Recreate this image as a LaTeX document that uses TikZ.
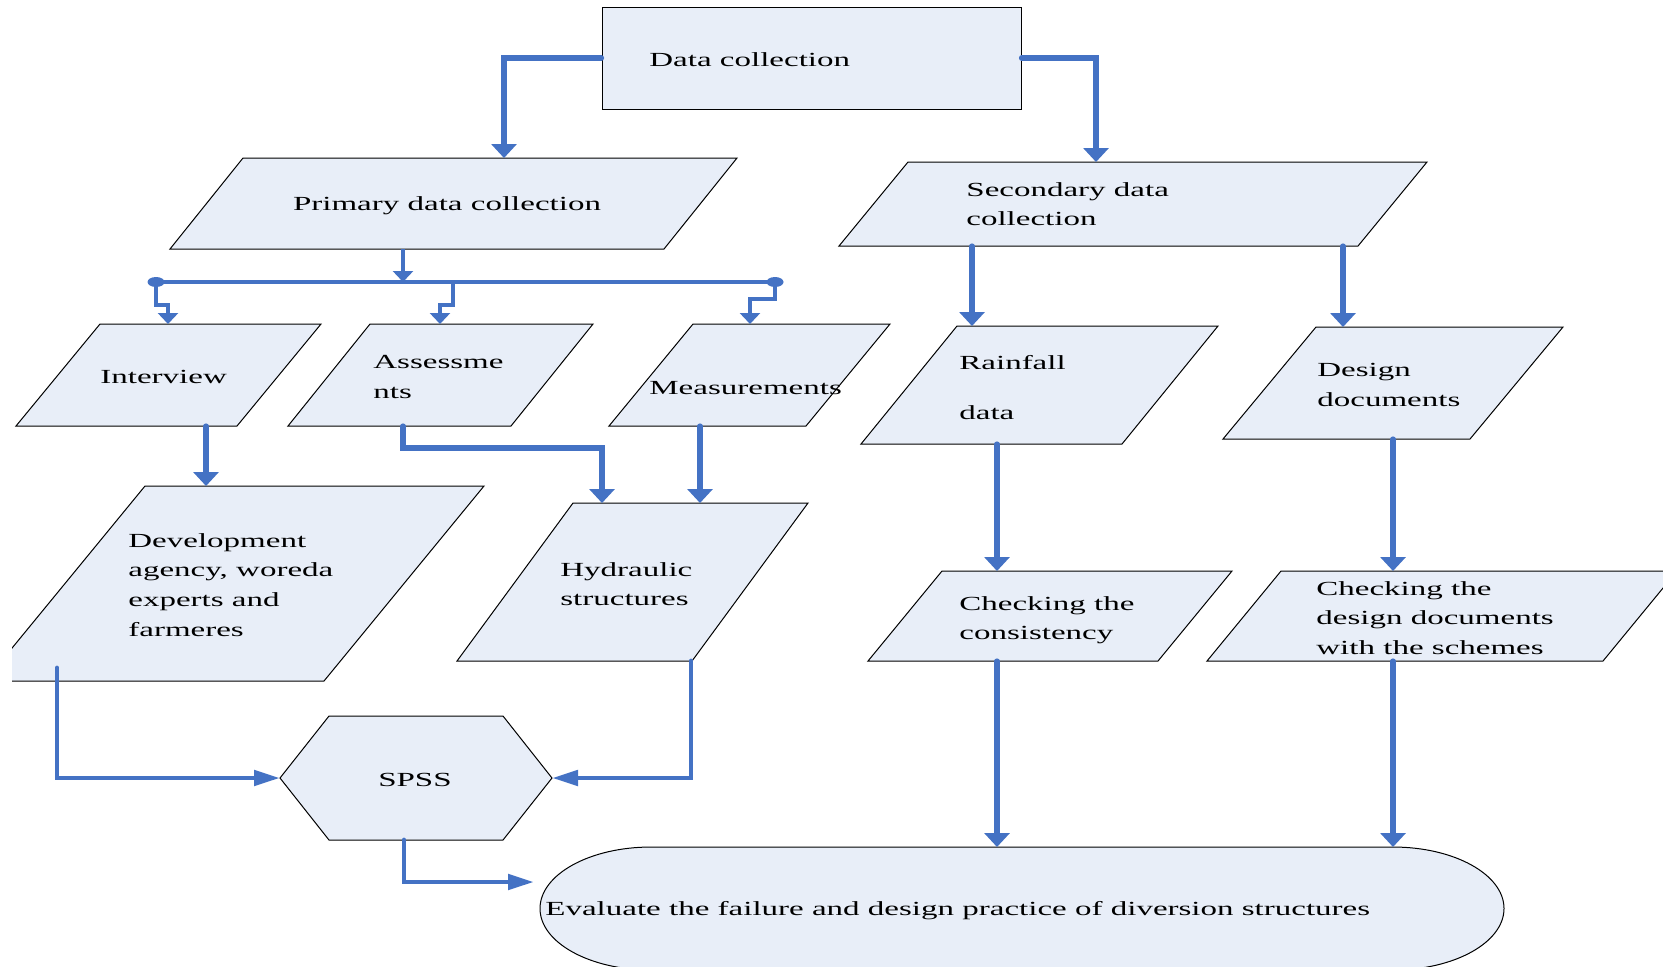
\documentclass[tikz,border=0pt]{standalone}
\usepackage{fontspec}
\setmainfont{Liberation Serif}[FakeStretch=1.65]
\usetikzlibrary{arrows.meta,calc}
\definecolor{flowblue}{RGB}{68,114,196}
\definecolor{boxfill}{RGB}{232,238,248}

% slanted box: name, top-left x, top y, side length, height, slant
\newcommand\parabox[6]{%
  \draw[boxshape] (#2,#3) -- ++(#4,0) -- ++(-#6,#5) -- ++(-#4,0) -- cycle;
  \node[anchorbox, minimum width={#4*0.5pt}, minimum height={#5*0.5pt}] (#1) at ({#2+(#4-#6)/2},{#3+#5/2}) {};
}

\begin{document}
\begin{tikzpicture}[
    x=0.5pt, y=-0.5pt,
    boxshape/.style={draw=black, line width=0.5pt, fill=boxfill},
    anchorbox/.style={draw=none, inner sep=0pt, outer sep=0pt},
    txt/.style={inner sep=0pt, align=left, font=\fontsize{10}{14.8}\selectfont},
    arr/.style={flowblue, line width=2.6pt, line cap=round, -{Triangle[width=12.5pt,length=7pt]}},
    arrh/.style={flowblue, line width=2.4pt, line cap=round, -{Triangle[width=7.5pt,length=13pt]}},
    thinarr/.style={flowblue, line width=1.7pt, -{Triangle[width=10pt,length=5.5pt]}},
    bus/.style={flowblue, line width=2pt}
]
\useasboundingbox (0,0) rectangle (1663,966);
\clip (12,0) rectangle (1663,966);

% boxes
\node[boxshape, inner sep=0pt, minimum width=209.5pt, minimum height=51pt] (dc) at (811.5,58) {};
\parabox{prim}{243}{158}{494}{91}{73}
\parabox{sec}{908}{162}{519}{84}{69}
\parabox{int}{100}{324}{221}{102}{84}
\parabox{ass}{370}{324}{223}{102}{82}
\parabox{mea}{693}{324}{197}{102}{84}
\parabox{rain}{957}{326}{261}{118}{96}
\parabox{desg}{1316}{327}{247}{112}{93}
\parabox{dev}{145}{486}{339}{195}{160}
\parabox{hyd}{573}{503}{235}{158}{116}
\parabox{chkc}{942}{571}{290}{90}{74}
\parabox{chkd}{1281}{571}{396}{90}{74}
\draw[boxshape] (280,778) -- (329,716) -- (503,716) -- (552,778) -- (503,840) -- (329,840) -- cycle;
\node[anchorbox, minimum width=136pt, minimum height=62pt] (spss) at (416,778) {};
\draw[boxshape] (651,847) -- (1393,847) arc (-90:90:111 and 61.5) -- (651,970) arc (90:270:111 and 61.5) -- cycle;
\node[anchorbox, minimum width=482pt, minimum height=61.5pt] (eval) at (1022,908.5) {};

% texts
\node[txt, anchor=base west] (dc-t) at (649,66) {Data collection};
\node[txt, anchor=base] (prim-t) at (447,210) {Primary data collection};
\node[txt, anchor=north west] (sec-t) at (966,182) {Secondary data\\collection};
\node[txt, anchor=base west] (int-t) at (100,383) {Interview};
\node[txt, anchor=north west] (ass-t) at (373,355) {Assessme\\nts};
\node[txt, anchor=base west] (mea-t) at (649,394) {Measurements};
\node[txt, anchor=north west] (rain-t) at (959,355) {Rainfall\\[10.2pt]data};
\node[txt, anchor=north west] (desg-t) at (1317,363) {Design\\documents};
\node[txt, anchor=north west] (dev-t) at (128,533) {Development\\agency, woreda\\experts and\\farmeres};
\node[txt, anchor=north west] (hyd-t) at (560,562) {Hydraulic\\structures};
\node[txt, anchor=north west] (chkc-t) at (959,596) {Checking the\\consistency};
\node[txt, anchor=north west] (chkd-t) at (1316,581) {Checking the\\design documents\\with the schemes};
\node[txt, anchor=base] (spss-t) at (415,786) {SPSS};
\node[txt, anchor=base west] (eval-t) at (545,915) {Evaluate the failure and design practice of diversion structures};

% connectors
\coordinate (busL) at (156,282);
\coordinate (busR) at (775,282);
\coordinate (evalin) at (534,882);
\draw[arr] (dc.west) -| (504,0 |- prim.north);
\draw[arr] (dc.east) -| (1096,0 |- sec.north);
\draw[thinarr] (403,0 |- prim.south) -- (403,0 |- busL);
\draw[bus] (busL) -- (busR);
\fill[flowblue] (busL) ellipse (8.5 and 5);
\fill[flowblue] (busR) ellipse (8.5 and 5);
\draw[thinarr] (busL) -- ++(0,23) -| (168,0 |- int.north);
\draw[thinarr] (453,0 |- busL) -- ++(0,23) -| (440,0 |- ass.north);
\draw[thinarr] (busR) -- ++(0,17) -| (750,0 |- mea.north);
\draw[arr] (206,0 |- int.south) -- (206,0 |- dev.north);
\draw[arr] (403,0 |- ass.south) -- ++(0,22) -| (602,0 |- hyd.north);
\draw[arr] (700,0 |- mea.south) -- (700,0 |- hyd.north);
\draw[arrh] ($(57,0 |- dev.south)+(0,-13)$) |- (spss.west);
\draw[arrh] (691,0 |- hyd.south) |- (spss.east);
\draw[arrh] (404,0 |- spss.south) |- (evalin);
\draw[arr] (972,0 |- sec.south) -- (972,0 |- rain.north);
\draw[arr] (1343,0 |- sec.south) -- (1343,0 |- desg.north);
\draw[arr] (997,0 |- rain.south) -- (997,0 |- chkc.north);
\draw[arr] (1393,0 |- desg.south) -- (1393,0 |- chkd.north);
\draw[arr] (997,0 |- chkc.south) -- (997,0 |- eval.north);
\draw[arr] (1393,0 |- chkd.south) -- (1393,0 |- eval.north);
\end{tikzpicture}
\end{document}
